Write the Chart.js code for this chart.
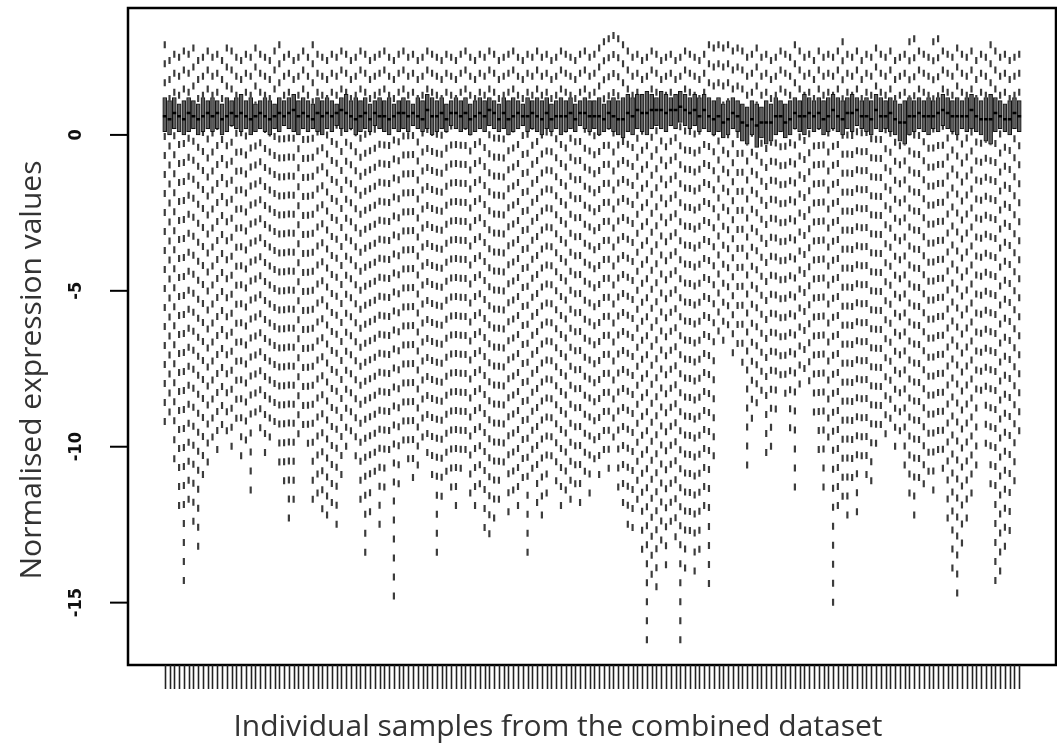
<!DOCTYPE html>
<html>
<head>
<meta charset="utf-8">
<script src="https://cdn.jsdelivr.net/npm/chart.js@4"></script>
<style>
  html, body { margin: 0; padding: 0; background: #fff; }
  #box-chart { display: block; }
</style>
</head>
<body>
<canvas id="box-chart" width="1057" height="747"></canvas>
<script>
// one boxplot per sample, 180 samples
const sampleIds = Array.from({ length: 180 }, (_, i) => i + 1);

const upperWhisker = [
  3.0, 2.5, 2.7, 2.6, 2.8, 2.7, 2.9, 2.5, 2.6, 2.8,
  2.6, 2.7, 2.5, 2.9, 2.8, 2.6, 2.5, 2.7, 2.6, 2.9,
  2.7, 2.6, 2.5, 2.8, 3.0, 2.6, 2.7, 2.5, 2.6, 2.8,
  2.6, 3.0, 2.7, 2.6, 2.5, 2.7, 2.6, 2.8, 2.7, 2.5,
  2.6, 2.8, 2.7, 2.5, 2.6, 2.7, 2.8, 2.6, 2.5, 2.7,
  2.8, 2.6, 2.7, 2.5, 2.6, 2.8, 2.7, 2.6, 2.5, 2.7,
  2.6, 2.5, 2.7, 2.8, 2.6, 2.5, 2.7, 2.6, 2.8, 2.7,
  2.5, 2.6, 2.7, 2.8, 2.6, 2.5, 2.7, 2.6, 2.8, 2.6,
  2.7, 2.5, 2.6, 2.8, 2.7, 2.6, 2.5, 2.7, 2.8, 2.6,
  2.7, 2.9, 3.1, 3.2, 3.3, 3.2, 3.0, 2.8, 2.6, 2.7,
  2.5, 2.6, 2.8, 2.7, 2.5, 2.6, 2.7, 2.5, 2.6, 2.8,
  2.7, 2.6, 2.5, 2.7, 3.0, 2.9, 3.0, 2.9, 3.0, 2.8,
  2.9, 2.8, 2.6, 2.7, 2.9, 2.6, 2.7, 2.5, 2.6, 2.8,
  2.7, 2.6, 3.0, 2.8, 2.6, 2.7, 2.5, 2.8, 2.6, 2.7,
  2.6, 2.8, 3.1, 2.7, 2.6, 2.8, 2.5, 2.7, 2.6, 2.9,
  2.7, 2.6, 2.8, 2.5, 2.6, 2.7, 3.1, 3.2, 2.8, 2.7,
  2.6, 3.1, 3.2, 2.8, 2.7, 2.6, 2.9, 2.7, 2.6, 2.8,
  2.5, 2.7, 2.6, 3.0, 2.8, 2.6, 2.7, 2.5, 2.6, 2.7
];

const upperQuartile = [
  1.2, 1.1, 1.2, 1.0, 1.1, 1.2, 1.1, 1.0, 1.2, 1.1,
  1.2, 1.1, 1.0, 1.2, 1.1, 1.2, 1.3, 1.1, 1.2, 1.0,
  1.1, 1.2, 1.1, 1.0, 1.2, 1.1, 1.2, 1.3, 1.1, 1.2,
  1.1, 1.0, 1.2, 1.1, 1.2, 1.1, 1.0, 1.2, 1.3, 1.1,
  1.2, 1.1, 1.2, 1.0, 1.1, 1.2, 1.1, 1.2, 1.0, 1.1,
  1.2, 1.1, 1.0, 1.2, 1.1, 1.3, 1.2, 1.1, 1.2, 1.0,
  1.1, 1.2, 1.1, 1.2, 1.0, 1.1, 1.2, 1.1, 1.2, 1.1,
  1.0, 1.2, 1.1, 1.2, 1.1, 1.0, 1.2, 1.1, 1.2, 1.1,
  1.2, 1.0, 1.1, 1.2, 1.1, 1.2, 1.0, 1.1, 1.2, 1.1,
  1.1, 1.2, 1.0, 1.1, 1.2, 1.1, 1.2, 1.3, 1.2, 1.3,
  1.3, 1.4, 1.3, 1.2, 1.4, 1.3, 1.2, 1.3, 1.4, 1.3,
  1.2, 1.3, 1.2, 1.3, 1.2, 1.1, 1.2, 1.0, 1.1, 1.2,
  1.1, 1.0, 0.9, 1.1, 1.0, 0.9, 1.1, 1.0, 1.2, 1.1,
  1.0, 1.1, 1.2, 1.1, 1.3, 1.2, 1.1, 1.2, 1.1, 1.2,
  1.3, 1.2, 1.1, 1.2, 1.3, 1.2, 1.1, 1.2, 1.1, 1.3,
  1.2, 1.1, 1.2, 1.1, 1.0, 1.1, 1.2, 1.1, 1.2, 1.1,
  1.2, 1.1, 1.2, 1.3, 1.2, 1.1, 1.2, 1.1, 1.2, 1.3,
  1.2, 1.1, 1.2, 1.3, 1.2, 1.1, 1.0, 1.1, 1.2, 1.1
];

const medians = [
  0.6, 0.5, 0.7, 0.6, 0.5, 0.7, 0.6, 0.5, 0.6, 0.7,
  0.6, 0.7, 0.5, 0.6, 0.7, 0.6, 0.7, 0.6, 0.5, 0.6,
  0.7, 0.6, 0.5, 0.6, 0.7, 0.6, 0.7, 0.8, 0.6, 0.7,
  0.6, 0.5, 0.7, 0.6, 0.7, 0.6, 0.7, 0.8, 0.7, 0.6,
  0.5, 0.6, 0.7, 0.5, 0.7, 0.6, 0.6, 0.5, 0.6, 0.7,
  0.7, 0.6, 0.7, 0.6, 0.5, 0.8, 0.6, 0.6, 0.7, 0.5,
  0.7, 0.7, 0.6, 0.7, 0.5, 0.6, 0.7, 0.6, 0.8, 0.7,
  0.5, 0.7, 0.5, 0.6, 0.7, 0.6, 0.6, 0.7, 0.6, 0.5,
  0.7, 0.5, 0.6, 0.6, 0.6, 0.7, 0.5, 0.7, 0.7, 0.6,
  0.6, 0.6, 0.5, 0.7, 0.6, 0.5, 0.5, 0.7, 0.6, 0.8,
  0.7, 0.7, 0.8, 0.8, 0.8, 0.7, 0.8, 0.8, 0.9, 0.8,
  0.7, 0.8, 0.6, 0.8, 0.6, 0.5, 0.6, 0.4, 0.5, 0.7,
  0.6, 0.4, 0.3, 0.5, 0.3, 0.4, 0.4, 0.4, 0.6, 0.6,
  0.4, 0.5, 0.7, 0.6, 0.6, 0.7, 0.6, 0.7, 0.5, 0.6,
  0.8, 0.6, 0.5, 0.7, 0.7, 0.8, 0.6, 0.6, 0.5, 0.8,
  0.6, 0.6, 0.7, 0.5, 0.4, 0.4, 0.6, 0.6, 0.7, 0.6,
  0.6, 0.6, 0.7, 0.8, 0.7, 0.6, 0.6, 0.6, 0.6, 0.8,
  0.6, 0.5, 0.5, 0.5, 0.7, 0.6, 0.5, 0.5, 0.7, 0.6
];

const lowerQuartile = [
  0.1, 0.0, 0.2, 0.1, 0.0, 0.1, 0.2, 0.0, 0.1, 0.2,
  0.1, 0.2, 0.0, 0.1, 0.3, 0.2, 0.1, 0.2, 0.0, 0.1,
  0.2, 0.1, 0.0, 0.2, 0.1, 0.3, 0.2, 0.1, 0.0, 0.2,
  0.1, 0.2, 0.1, 0.0, 0.2, 0.1, 0.3, 0.2, 0.1, 0.2,
  0.0, 0.1, 0.2, 0.1, 0.3, 0.2, 0.1, 0.0, 0.2, 0.1,
  0.2, 0.1, 0.3, 0.2, 0.1, 0.2, 0.0, 0.1, 0.2, 0.1,
  0.3, 0.2, 0.1, 0.2, 0.0, 0.1, 0.2, 0.1, 0.3, 0.2,
  0.1, 0.2, 0.0, 0.1, 0.2, 0.3, 0.1, 0.2, 0.1, 0.0,
  0.2, 0.1, 0.2, 0.0, 0.1, 0.2, 0.1, 0.3, 0.2, 0.1,
  0.2, 0.0, 0.1, 0.2, 0.1, 0.0, -0.1, 0.1, 0.0, 0.2,
  0.1, 0.0, 0.2, 0.3, 0.2, 0.1, 0.3, 0.2, 0.4, 0.3,
  0.2, 0.3, 0.1, 0.2, 0.1, 0.0, 0.1, -0.1, 0.0, 0.2,
  0.1, -0.2, -0.3, 0.0, -0.4, -0.1, -0.3, -0.2, 0.0, 0.1,
  -0.1, 0.0, 0.2, 0.1, 0.0, 0.2, 0.1, 0.2, 0.0, 0.1,
  0.2, 0.1, 0.0, 0.2, 0.1, 0.3, 0.2, 0.1, 0.0, 0.2,
  0.1, 0.2, 0.1, 0.0, -0.2, -0.3, 0.0, 0.1, 0.2, 0.1,
  0.0, 0.2, 0.1, 0.3, 0.2, 0.1, 0.0, 0.2, 0.1, 0.2,
  0.1, 0.0, -0.2, -0.3, 0.1, 0.2, 0.1, 0.0, 0.2, 0.1
];

const lowerWhisker = [
  -9.3, -9.0, -10.5, -12.0, -14.4, -11.8, -12.5, -13.3, -11.0, -10.6,
  -9.8, -10.2, -9.4, -9.6, -10.1, -9.2, -10.4, -9.9, -11.5, -9.0,
  -9.5, -10.3, -9.8, -9.3, -10.6, -11.2, -12.4, -11.8, -9.7, -9.4,
  -10.0, -11.8, -11.6, -12.1, -12.3, -11.9, -12.6, -11.0, -10.1, -9.6,
  -10.4, -11.8, -13.5, -12.2, -10.9, -12.6, -11.4, -10.2, -14.9, -11.3,
  -9.9, -10.5, -11.1, -10.7, -9.8, -10.3, -11.0, -13.5, -11.7, -10.9,
  -11.4, -12.0, -10.8, -10.2, -11.6, -12.0, -11.3, -12.7, -12.9, -12.4,
  -11.8, -10.6, -12.2, -11.5, -12.0, -11.1, -13.5, -10.8, -11.9, -12.3,
  -11.6, -10.4, -11.2, -12.0, -11.5, -11.8, -11.3, -11.9, -10.9, -11.6,
  -10.5, -11.0, -10.2, -10.8, -9.8, -11.4, -11.9, -12.6, -12.7, -11.8,
  -13.4, -16.3, -14.2, -14.6, -13.1, -13.9, -12.5, -13.0, -16.3, -14.0,
  -12.8, -14.1, -13.4, -12.0, -14.5, -10.4, -6.4, -6.7, -6.2, -7.1,
  -6.8, -7.4, -10.7, -9.2, -8.7, -8.3, -10.3, -10.1, -8.9, -7.8,
  -8.4, -9.5, -11.4, -8.1, -7.6, -8.0, -9.0, -10.2, -11.4, -9.8,
  -15.1, -12.0, -11.7, -12.3, -11.1, -12.2, -10.4, -11.0, -11.2, -10.0,
  -9.4, -9.7, -9.2, -10.1, -9.6, -10.7, -11.6, -12.3, -11.1, -11.3,
  -10.9, -11.5, -10.2, -10.8, -12.4, -14.0, -14.8, -13.2, -12.4, -11.6,
  -10.7, -8.3, -10.0, -11.3, -14.4, -14.1, -13.3, -12.8, -11.2, -9.6
];

const yTicks = [0, -5, -10, -15];
const yTitle = 'Normalised expression values';
const xTitle = 'Individual samples from the combined dataset';

// whiskers are drawn from the whisker end towards the box, like R does
const whiskerPoints = [];
const boxRanges = [];
const medianPoints = [];
sampleIds.forEach((id, i) => {
  whiskerPoints.push({ x: id, y: upperWhisker[i] }, { x: id, y: upperQuartile[i] }, { x: id, y: null });
  whiskerPoints.push({ x: id, y: lowerWhisker[i] }, { x: id, y: lowerQuartile[i] }, { x: id, y: null });
  boxRanges.push({ x: id, y: [lowerQuartile[i], upperQuartile[i]] });
  medianPoints.push({ x: id - 0.4, y: medians[i] }, { x: id + 0.4, y: medians[i] }, { x: id, y: null });
});

const frameAndAxes = {
  id: 'frameAndAxes',
  afterDraw(chart) {
    const ctx = chart.ctx;
    const area = chart.chartArea;
    const xs = chart.scales.x;
    const ys = chart.scales.y;
    ctx.save();

    // box around plot
    ctx.strokeStyle = '#000';
    ctx.lineWidth = 2.5;
    ctx.strokeRect(area.left, area.top, area.right - area.left, area.bottom - area.top);

    // y axis ticks + rotated labels
    ctx.lineWidth = 2;
    ctx.fillStyle = '#111';
    ctx.font = 'bold 18px "DejaVu Sans Condensed", "DejaVu Sans"';
    ctx.textAlign = 'center';
    ctx.textBaseline = 'middle';
    yTicks.forEach(v => {
      const py = ys.getPixelForValue(v);
      ctx.beginPath();
      ctx.moveTo(area.left - 18, py);
      ctx.lineTo(area.left, py);
      ctx.stroke();
      ctx.save();
      ctx.translate(area.left - 52, py);
      ctx.rotate(-Math.PI / 2);
      ctx.fillText(String(v), 0, 0);
      ctx.restore();
    });

    // one tick per sample, no labels
    ctx.lineWidth = 1.6;
    ctx.strokeStyle = '#222';
    sampleIds.forEach(id => {
      const px = Math.round(xs.getPixelForValue(id)) + 0.5;
      ctx.beginPath();
      ctx.moveTo(px, area.bottom);
      ctx.lineTo(px, area.bottom + 24);
      ctx.stroke();
    });

    // axis titles
    ctx.fillStyle = '#333';
    ctx.font = '30px "Open Sans"';
    ctx.textBaseline = 'middle';
    ctx.fillText(xTitle, 558, 727);
    ctx.save();
    ctx.translate(32, 370);
    ctx.rotate(-Math.PI / 2);
    ctx.fillText(yTitle, 0, 0);
    ctx.restore();

    ctx.restore();
  }
};

new Chart(document.getElementById('box-chart'), {
  type: 'bar',
  data: {
    datasets: [
      {
        type: 'line',
        data: medianPoints,
        borderColor: '#000',
        borderWidth: 2.5,
        pointRadius: 0,
        spanGaps: false,
        order: 0
      },
      {
        type: 'bar',
        data: boxRanges,
        backgroundColor: '#5e5e5e',
        borderColor: '#111',
        borderWidth: 1,
        borderSkipped: false,
        barThickness: 4,
        grouped: false,
        order: 1
      },
      {
        type: 'line',
        data: whiskerPoints,
        borderColor: '#3c3c3c',
        borderWidth: 2.2,
        borderDash: [7, 12],
        pointRadius: 0,
        spanGaps: false,
        order: 2
      }
    ]
  },
  options: {
    responsive: false,
    animation: false,
    devicePixelRatio: 1,
    layout: { padding: { left: 128, right: 1, top: 8, bottom: 82 } },
    plugins: { legend: { display: false }, tooltip: { enabled: false } },
    scales: {
      x: { type: 'linear', offset: false, min: -6.7, max: 187.7, display: false },
      y: { min: -17, max: 4.07, display: false }
    }
  },
  plugins: [frameAndAxes]
});
</script>
</body>
</html>
